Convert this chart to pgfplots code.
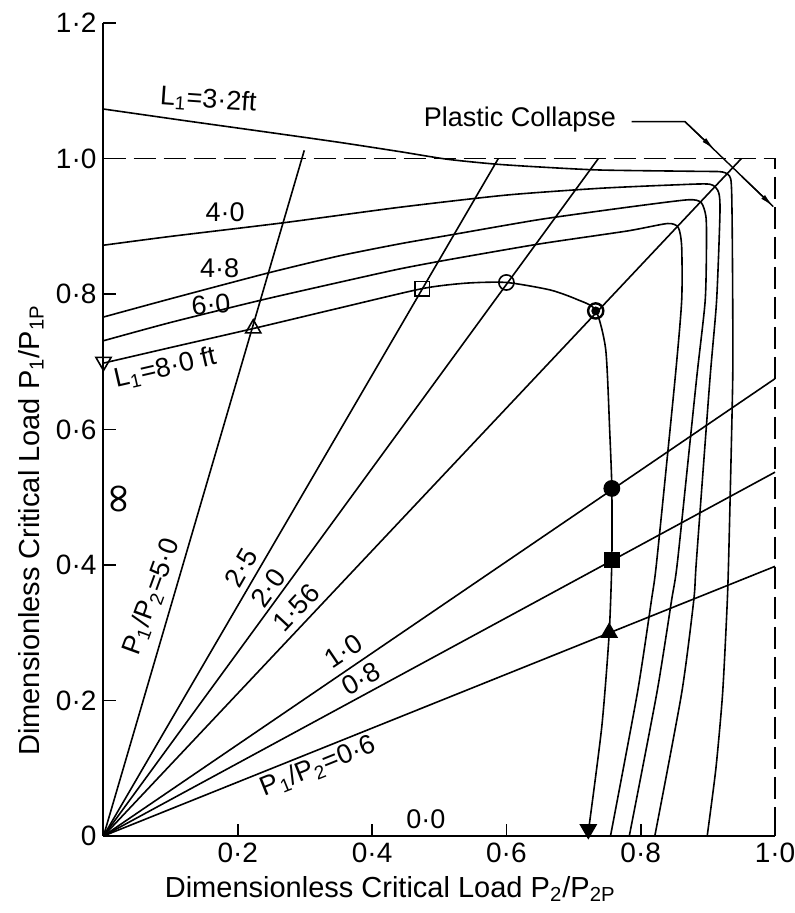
\documentclass[border=0pt]{standalone}
\usepackage{fontspec}
\setmainfont{Liberation Sans}
\newfontfamily\dejavu{DejaVu Sans}
\usepackage{pgfplots}
\pgfplotsset{compat=1.18}
\usetikzlibrary{arrows.meta}
\newcommand\lbl{\fontsize{13.5pt}{15pt}\selectfont}
\begin{document}
\begin{tikzpicture}
\begin{axis}[name=ax, scale only axis, width=335.75pt, height=406.5pt,
  xmin=0, xmax=1, ymin=0, ymax=1.2,
  axis lines=left, axis line style={-, line width=1pt},
  tick align=inside, major tick length=6pt, tick style={line width=0.9pt, black},
  xtick={0.2,0.4,0.6,0.8,1.0}, xticklabels={0·2,0·4,0·6,0·8,1·0},
  ytick={0,0.2,0.4,0.6,0.8,1.0,1.2}, yticklabels={0,0·2,0·4,0·6,0·8,1·0,1·2},
  ticklabel style={font=\fontsize{14pt}{16pt}\selectfont},
  xlabel={Dimensionless Critical Load P\textsubscript{2}/P\textsubscript{2P}},
  ylabel={Dimensionless Critical Load P\textsubscript{1}/P\textsubscript{1P}},
  label style={font=\fontsize{14.5pt}{16pt}\selectfont},
  xlabel style={at={(axis description cs:0.427,-0.0652)}, anchor=center},
  ylabel style={at={(axis description cs:-0.108,0.376)}, anchor=center},
  clip=false,
  cycle list={{black,solid,mark=none}},
  every axis plot/.append style={line width=0.8pt, black},
]
% plastic collapse boundary
\addplot[black, mark=none, dash pattern=on 11pt off 4pt] coordinates {(0,1.0) (1.0,1.0) (1.0,0)};
% radial lines P1/P2
\addplot[black, solid, mark=none] coordinates {(0,0) (0.299,1.012)};
\addplot[black, solid, mark=none] coordinates {(0,0) (0.588,1.0)};
\addplot[black, solid, mark=none] coordinates {(0,0) (0.737,1.0)};
\addplot[black, solid, mark=none] coordinates {(0,0) (0.950,1.0)};
\addplot[black, solid, mark=none] coordinates {(0,0) (1.0,0.675)};
\addplot[black, solid, mark=none] coordinates {(0,0) (1.0,0.537)};
\addplot[black, solid, mark=none] coordinates {(0,0) (1.0,0.398)};
% L1 = 3.2 ft
\addplot[black, solid, mark=none, smooth, tension=0.4] coordinates {(0,1.073) (0.12,1.056) (0.243,1.039) (0.35,1.024) (0.442,1.010) (0.511,0.999) (0.58,0.992) (0.64,0.988) (0.739,0.983) (0.886,0.981) (0.922,0.980) (0.934,0.970) (0.936,0.919) (0.937,0.79) (0.937,0.673) (0.932,0.45) (0.929,0.348) (0.922,0.211) (0.912,0.1) (0.899,0)};
% L1 = 4.0 ft
\addplot[black, solid, mark=none, smooth, tension=0.4] coordinates {(0,0.872) (0.1,0.885) (0.267,0.905) (0.441,0.928) (0.6,0.946) (0.739,0.956) (0.85,0.961) (0.903,0.962) (0.916,0.950) (0.918,0.919) (0.913,0.79) (0.903,0.673) (0.883,0.407) (0.879,0.348) (0.861,0.211) (0.821,0)};
% L1 = 4.8 ft
\addplot[black, solid, mark=none, smooth, tension=0.4] coordinates {(0,0.766) (0.1,0.793) (0.245,0.831) (0.35,0.856) (0.441,0.874) (0.516,0.887) (0.65,0.910) (0.78,0.928) (0.870,0.939) (0.890,0.935) (0.897,0.915) (0.898,0.88) (0.896,0.79) (0.883,0.673) (0.855,0.407) (0.846,0.348) (0.824,0.211) (0.783,0)};
% L1 = 6.0 ft
\addplot[black, solid, mark=none, smooth, tension=0.4] coordinates {(0,0.731) (0.1,0.758) (0.235,0.791) (0.35,0.817) (0.441,0.837) (0.516,0.851) (0.65,0.874) (0.78,0.893) (0.840,0.904) (0.856,0.898) (0.861,0.87) (0.861,0.79) (0.851,0.673) (0.824,0.407) (0.816,0.348) (0.795,0.211) (0.755,0)};
% L1 = 8.0 ft
\addplot[black, solid, mark=none, smooth, tension=0.4] coordinates {(0,0.698) (0.1,0.721) (0.223,0.749) (0.35,0.779) (0.475,0.808) (0.54,0.816) (0.600,0.817) (0.665,0.806) (0.705,0.792) (0.733,0.776) (0.748,0.717) (0.754,0.594) (0.757,0.513) (0.757,0.407) (0.753,0.298) (0.742,0.161) (0.722,0.006)};
% markers
\addplot[only marks, mark=triangle, mark size=4.4pt, mark options={solid, fill=white, rotate=180, line width=0.8pt}] coordinates {(0,0.700)};
\addplot[only marks, mark=triangle, mark size=4.4pt, mark options={solid, fill=white, line width=0.8pt}] coordinates {(0.223,0.749)};
\addplot[only marks, mark=square, mark size=3.6pt, mark options={solid, fill=white, line width=0.8pt}] coordinates {(0.475,0.808)};
\addplot[only marks, mark=o, mark size=3.8pt, mark options={solid, fill=white, line width=0.8pt}] coordinates {(0.600,0.817)};
\addplot[only marks, mark=o, mark size=3.8pt, mark options={solid, fill=white, line width=1.2pt}] coordinates {(0.733,0.775)};
\addplot[only marks, mark=*, mark size=1.8pt] coordinates {(0.733,0.775)};
\addplot[only marks, mark=*, mark size=3.8pt] coordinates {(0.757,0.513)};
\addplot[only marks, mark=square*, mark size=3.6pt] coordinates {(0.757,0.407)};
\addplot[only marks, mark=triangle*, mark size=4.4pt] coordinates {(0.753,0.300)};
\addplot[only marks, mark=triangle*, mark size=4.4pt, mark options={rotate=180}] coordinates {(0.722,0.010)};
% plastic collapse leader
\draw[line width=0.7pt] (axis cs:0.7866,1.0543) -- (axis cs:0.866,1.0543) -- (axis cs:0.9975,0.929);
\draw[line width=0.7pt, -{Latex[length=7pt,width=2.6pt]}] (axis cs:0.866,1.0543) -- (axis cs:0.910,1.013);
\draw[line width=0.7pt, -{Latex[length=7pt,width=2.6pt]}] (axis cs:0.95,0.974) -- (axis cs:0.9975,0.929);
\node[font=\lbl] at (axis cs:0.620,1.057) {Plastic Collapse};
% L1 labels
\node[font=\lbl, rotate=-4] at (axis cs:0.156,1.086) {L\textsubscript{1}=3·2ft};
\node[font=\lbl] at (axis cs:0.181,0.920) {4·0};
\node[font=\lbl] at (axis cs:0.173,0.838) {4·8};
\node[font=\lbl, rotate=5] at (axis cs:0.160,0.785) {6·0};
\node[font=\lbl, rotate=13] at (axis cs:0.092,0.690) {L\textsubscript{1}=8·0 ft};
% ratio labels
\node[font=\dejavu\fontsize{21pt}{23pt}\selectfont, rotate=90] at (axis cs:0.027,0.498) {∞};
\node[font=\lbl, rotate=70] at (axis cs:0.072,0.353) {P\textsubscript{1}/P\textsubscript{2}=5·0};
\node[font=\lbl, rotate=60] at (axis cs:0.205,0.396) {2·5};
\node[font=\lbl, rotate=54] at (axis cs:0.245,0.366) {2·0};
\node[font=\lbl, rotate=47] at (axis cs:0.287,0.337) {1·56};
\node[font=\lbl, rotate=34] at (axis cs:0.357,0.273) {1·0};
\node[font=\lbl, rotate=29] at (axis cs:0.384,0.232) {0·8};
\node[font=\lbl, rotate=22] at (axis cs:0.320,0.102) {P\textsubscript{1}/P\textsubscript{2}=0·6};
\node[font=\lbl] at (axis cs:0.480,0.025) {0·0};
\end{axis}
\pgfresetboundingbox
\path[use as bounding box] ([xshift=-51.75pt,yshift=-38.5pt]ax.south west) rectangle ([xshift=9.5pt,yshift=11.5pt]ax.north east);
\end{tikzpicture}
\end{document}
